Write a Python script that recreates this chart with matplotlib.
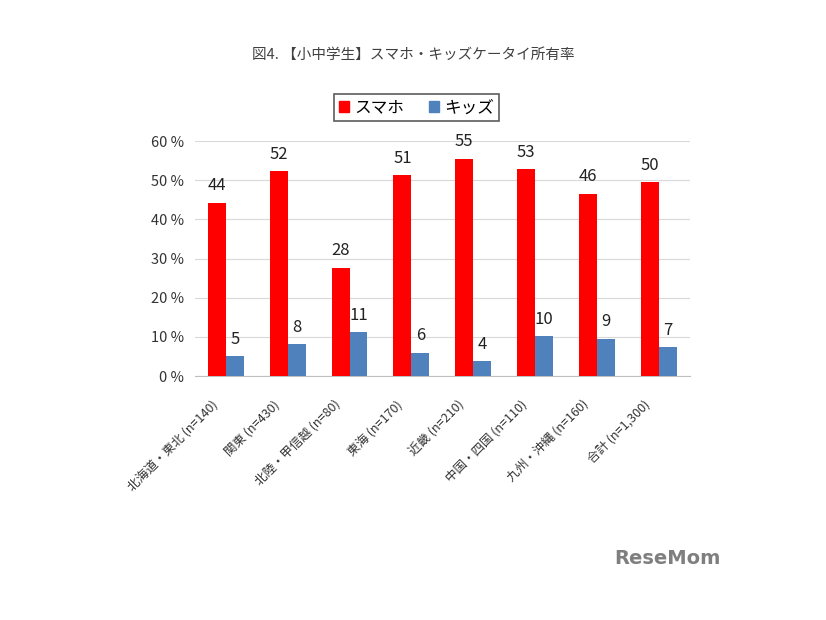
import matplotlib
matplotlib.use('Agg')
import matplotlib.pyplot as plt
from matplotlib.patches import Patch
from matplotlib.transforms import ScaledTranslation
import numpy as np

plt.rcParams['font.family'] = ['Noto Sans CJK JP', 'DejaVu Sans']

regions = ['北海道・東北 (n=140)', '関東 (n=430)', '北陸・甲信越 (n=80)', '東海 (n=170)',
           '近畿 (n=210)', '中国・四国 (n=110)', '九州・沖縄 (n=160)', '合計 (n=1,300)']
smartphone = [44.2, 52.3, 27.6, 51.3, 55.4, 52.8, 46.5, 49.5]
kids = [5.0, 8.1, 11.2, 6.0, 3.8, 10.1, 9.5, 7.3]
smartphone_labels = ['44', '52', '28', '51', '55', '53', '46', '50']
kids_labels = ['5', '8', '11', '6', '4', '10', '9', '7']

red = '#FF0000'
blue = '#4F81BD'

fig = plt.figure(figsize=(8.26, 6.2), dpi=100)
ax = fig.add_axes([0.236, 0.3935, 0.599, 0.379])

x = np.arange(len(regions))
w = 0.29
ax.bar(x - w / 2, smartphone, w, color=red, zorder=3)
ax.bar(x + w / 2, kids, w, color=blue, zorder=3)

for xi, v, t in zip(x, smartphone, smartphone_labels):
    ax.text(xi - w / 2, v + 2.2, t, ha='center', va='bottom', fontsize=12, color='#222222')
for xi, v, t in zip(x, kids, kids_labels):
    ax.text(xi + w / 2, v + 2.2, t, ha='center', va='bottom', fontsize=12, color='#222222')

ax.set_xlim(-0.5, len(regions) - 0.5)
ax.set_ylim(0, 60)
ax.set_yticks(range(0, 61, 10))
ax.set_yticklabels([f'{v} %' for v in range(0, 61, 10)], fontsize=10.5, color='#333333')
ax.set_xticks(x)
ax.set_xticklabels(regions, rotation=45, ha='right', rotation_mode='anchor', fontsize=9, color='#333333')
ax.tick_params(length=0, pad=8)
ax.tick_params(axis='x', pad=16)
shift = ScaledTranslation(-15 / 100, 0, fig.dpi_scale_trans)
for lbl in ax.get_xticklabels():
    lbl.set_transform(lbl.get_transform() + shift)
ax.grid(axis='y', color='#D9D9D9', linewidth=0.8, zorder=0)
for s in ['left', 'right', 'top']:
    ax.spines[s].set_visible(False)
ax.spines['bottom'].set_color('#BFBFBF')

fig.text(0.5, 0.912, '図4. 【小中学生】スマホ・キッズケータイ所有率', ha='center', va='center',
         fontsize=10.5, color='#404040')

handles = [Patch(color=red, label='スマホ'), Patch(color=blue, label='キッズ')]
leg = fig.legend(handles=handles, loc='center', bbox_to_anchor=(0.504, 0.826), ncol=2,
                 frameon=True, fancybox=False, edgecolor='#333333', fontsize=12,
                 handlelength=0.6, handleheight=0.6, handletextpad=0.3, columnspacing=1.5,
                 borderpad=0.3)
leg.get_frame().set_linewidth(1.2)

fig.text(0.872, 0.10, 'ReseMom', ha='right', va='center', fontsize=14, fontweight='bold',
         color='#7F7F7F', family=['DejaVu Sans'])

fig.savefig('out.png', dpi=100)
plt.close(fig)
